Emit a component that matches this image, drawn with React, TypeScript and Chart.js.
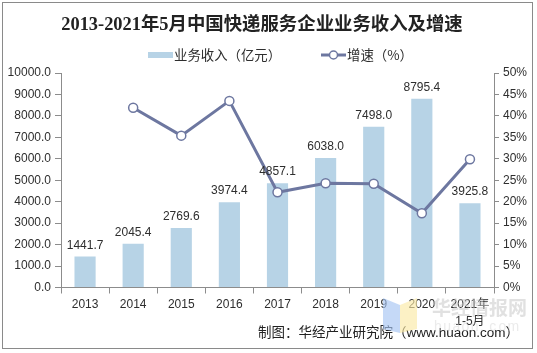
import React, { useEffect, useRef } from "react";
import { Chart, registerables } from "chart.js";

Chart.register(...registerables);

const TITLE = "2013-2021年5月中国快递服务企业业务收入及增速";
const SERIES_BAR = "业务收入（亿元）";
const SERIES_LINE = "增速（%）";
const FOOTER = "制图：华经产业研究院（www.huaon.com）";

const categories: (string | string[])[] = [
  "2013", "2014", "2015", "2016", "2017", "2018", "2019", "2020", ["2021年", "1-5月"],
];
const revenue = [1441.7, 2045.4, 2769.6, 3974.4, 4857.1, 6038.0, 7498.0, 8795.4, 3925.8];
const growth: (number | null)[] = [null, 41.9, 35.4, 43.5, 22.2, 24.3, 24.2, 17.3, 29.9];
const leftAxis = { min: 0, max: 10000, step: 1000 };
const rightAxis = { min: 0, max: 50, step: 5 };

const BAR_COLOR = "#b7d3e6";
const LINE_COLOR = "#6d77a0";
const TEXT_COLOR = "#2e2e2e";
const AXIS_COLOR = "#8c8c8c";
const LATIN = "'Liberation Sans', 'Noto Sans CJK SC', sans-serif";

const decorPlugin = {
  id: "decor",
  afterDatasetsDraw(chart: any) {
    const ctx = chart.ctx as CanvasRenderingContext2D;
    const meta = chart.getDatasetMeta(0);
    ctx.save();
    ctx.font = `12px ${LATIN}`;
    ctx.fillStyle = TEXT_COLOR;
    ctx.textAlign = "center";
    ctx.textBaseline = "alphabetic";
    meta.data.forEach((el: any, i: number) => {
      ctx.fillText(revenue[i].toFixed(1), el.x, el.y - 8);
    });
    ctx.restore();
  },
  afterDraw(chart: any) {
    const ctx = chart.ctx as CanvasRenderingContext2D;
    ctx.save();
    // border
    ctx.strokeStyle = "#8a8a8a";
    ctx.lineWidth = 1;
    ctx.strokeRect(2.5, 2.5, 530, 346);
    // title
    ctx.fillStyle = "#222";
    ctx.font = `bold 18.4px 'Liberation Serif', 'Noto Sans CJK SC', serif`;
    ctx.textAlign = "center";
    ctx.textBaseline = "middle";
    ctx.fillText(TITLE, 262, 25);
    // legend
    ctx.textAlign = "left";
    ctx.font = `13.4px 'Noto Sans CJK SC', sans-serif`;
    ctx.fillStyle = BAR_COLOR;
    ctx.fillRect(148, 52, 25, 6);
    ctx.fillStyle = TEXT_COLOR;
    ctx.fillText(SERIES_BAR, 174, 55);
    ctx.strokeStyle = LINE_COLOR;
    ctx.lineWidth = 3;
    ctx.beginPath();
    ctx.moveTo(321, 55);
    ctx.lineTo(346, 55);
    ctx.stroke();
    ctx.beginPath();
    ctx.arc(333.5, 55, 4, 0, Math.PI * 2);
    ctx.fillStyle = "#fff";
    ctx.fill();
    ctx.lineWidth = 1.5;
    ctx.stroke();
    ctx.fillStyle = TEXT_COLOR;
    ctx.fillText(SERIES_LINE, 347, 55);
    // footer
    ctx.textAlign = "right";
    ctx.font = `13.5px ${LATIN}`;
    ctx.fillStyle = "#222";
    ctx.fillText(FOOTER, 519, 333);
    // watermark
    ctx.globalAlpha = 0.65;
    ctx.fillStyle = "#a6c4f2";
    ctx.beginPath();
    ctx.moveTo(383, 298);
    ctx.lineTo(400, 305);
    ctx.lineTo(400, 333);
    ctx.lineTo(383, 329);
    ctx.closePath();
    ctx.fill();
    ctx.fillStyle = "#fbe9a6";
    ctx.beginPath();
    ctx.moveTo(400, 305);
    ctx.lineTo(417, 298);
    ctx.lineTo(417, 329);
    ctx.lineTo(400, 333);
    ctx.closePath();
    ctx.fill();
    ctx.globalAlpha = 0.5;
    ctx.fillStyle = "#c4c4c4";
    ctx.textAlign = "left";
    ctx.font = `bold 19px 'Noto Sans CJK SC', sans-serif`;
    ctx.fillText("华经情报网", 432, 308);
    ctx.fillStyle = "#d8d8d8";
    ctx.font = `14px ${LATIN}`;
    const w = "huaon.com";
    for (let i = 0; i < w.length; i++) {
      ctx.fillText(w[i], 434 + i * 9.2, 327);
    }
    ctx.restore();
  },
};

export default function App() {
  const ref = useRef<HTMLCanvasElement>(null);
  useEffect(() => {
    if (!ref.current) return;
    const chart = new Chart(ref.current, {
      type: "bar",
      data: {
        labels: categories as any,
        datasets: [
          {
            type: "bar",
            label: SERIES_BAR,
            data: revenue,
            backgroundColor: BAR_COLOR,
            yAxisID: "y",
            barPercentage: 0.44,
            categoryPercentage: 1,
            order: 2,
          },
          {
            type: "line",
            label: SERIES_LINE,
            data: growth as any,
            borderColor: LINE_COLOR,
            borderWidth: 3,
            pointRadius: 4.5,
            pointBackgroundColor: "#ffffff",
            pointBorderColor: LINE_COLOR,
            pointBorderWidth: 1.5,
            tension: 0,
            yAxisID: "y1",
            order: 1,
          },
        ],
      },
      options: {
        animation: false,
        responsive: false,
        devicePixelRatio: 1,
        layout: { padding: { top: 73, left: 0, right: 0, bottom: 0 } },
        plugins: {
          legend: { display: false },
          title: { display: false },
          tooltip: { enabled: false },
        },
        scales: {
          x: {
            grid: {
              offset: true,
              drawOnChartArea: false,
              drawTicks: true,
              tickLength: 6,
              color: AXIS_COLOR,
            },
            border: { color: AXIS_COLOR },
            ticks: {
              font: { size: 12, family: LATIN, lineHeight: 1.45 },
              color: TEXT_COLOR,
              padding: 2,
              maxRotation: 0,
              autoSkip: false,
            },
            afterFit: (s: any) => { s.height = 65.5; },
          },
          y: {
            position: "left",
            min: leftAxis.min,
            max: leftAxis.max,
            grid: { drawOnChartArea: false, tickLength: 6, color: AXIS_COLOR },
            border: { color: AXIS_COLOR },
            ticks: {
              stepSize: leftAxis.step,
              font: { size: 12, family: LATIN },
              color: TEXT_COLOR,
              padding: 4,
              callback: (v: any) => Number(v).toFixed(1),
            },
            afterFit: (s: any) => { s.width = 61; },
          },
          y1: {
            position: "right",
            min: rightAxis.min,
            max: rightAxis.max,
            grid: { drawOnChartArea: false, tickLength: 5, color: AXIS_COLOR },
            border: { color: AXIS_COLOR },
            ticks: {
              stepSize: rightAxis.step,
              font: { size: 12, family: LATIN },
              color: TEXT_COLOR,
              padding: 4,
              callback: (v: any) => `${v}%`,
            },
            afterFit: (s: any) => { s.width = 43; },
          },
        },
      },
      plugins: [decorPlugin],
    });
    return () => chart.destroy();
  }, []);
  return (
    <div style={{ position: "fixed", left: 0, top: 0, width: 537, height: 353, background: "#fff" }}>
      <canvas ref={ref} width={537} height={353} style={{ display: "block" }} />
    </div>
  );
}
